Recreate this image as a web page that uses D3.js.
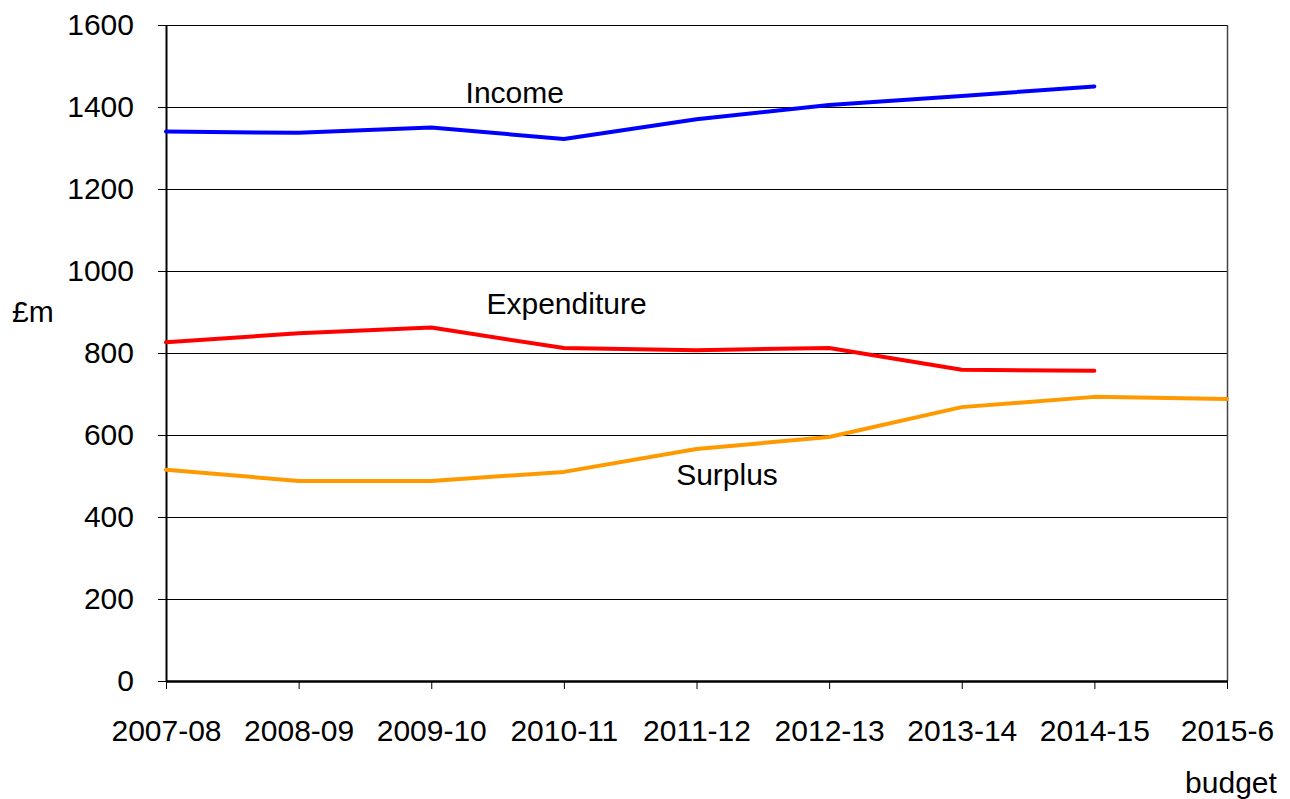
<!DOCTYPE html>
<html lang="en">
<head>
    <meta charset="UTF-8">
    <title>Income, expenditure and surplus</title>
    <style>
        body { margin: 0; padding: 0; background: white; overflow: hidden; }
        text { font-family: "Liberation Sans", Arial, sans-serif; }
    </style>
</head>
<body>
    <svg id="chart" width="1290" height="799"></svg>
    <script src="https://d3js.org/d3.v7.min.js"></script>
    <script>
        // data (£m)
        const years = ["2007-08", "2008-09", "2009-10", "2010-11", "2011-12", "2012-13", "2013-14", "2014-15", "2015-6"];
        const income = [1340, 1337, 1350, 1322, 1370, 1405, 1427, 1450];
        const expenditure = [826, 848, 862, 812, 807, 812, 759, 757];
        const surplus = [515, 488, 488, 510, 566, 595, 668, 693, 688];
        const yTicks = [0, 200, 400, 600, 800, 1000, 1200, 1400, 1600];

        const FONT_SIZE = 30;

        const margin = {top: 25, right: 63, bottom: 118, left: 166};
        const width = 1290, height = 799;

        const svg = d3.select("#chart");

        const x = d3.scalePoint()
            .domain(years)
            .range([margin.left, width - margin.right]);

        const y = d3.scaleLinear()
            .domain([0, 1600])
            .range([height - margin.bottom, margin.top]);

        // gridlines
        svg.append("g")
            .selectAll("line")
            .data(yTicks.slice(1))
            .enter()
            .append("line")
            .attr("x1", margin.left)
            .attr("x2", width - margin.right)
            .attr("y1", d => y(d) + 0.5)
            .attr("y2", d => y(d) + 0.5)
            .attr("stroke", "#000")
            .attr("stroke-width", 1);

        // right border
        svg.append("line")
            .attr("x1", width - margin.right + 0.5)
            .attr("x2", width - margin.right + 0.5)
            .attr("y1", margin.top)
            .attr("y2", height - margin.bottom)
            .attr("stroke", "#444")
            .attr("stroke-width", 1.5);

        // y axis
        const yAxis = svg.append("g")
            .attr("transform", "translate(" + margin.left + ",0)")
            .call(d3.axisLeft(y).tickValues(yTicks).tickFormat(d3.format("d"))
                .tickSize(8).tickPadding(24).tickSizeOuter(0));
        yAxis.select(".domain").attr("stroke-width", 2);
        yAxis.selectAll("text").attr("font-size", FONT_SIZE).attr("font-family", null).attr("fill", "#000");

        // x axis
        const xAxis = svg.append("g")
            .attr("transform", "translate(0," + (height - margin.bottom) + ")")
            .call(d3.axisBottom(x).tickSize(8).tickPadding(31).tickSizeOuter(0));
        xAxis.select(".domain").attr("stroke-width", 2.5);
        xAxis.selectAll("text").attr("font-size", FONT_SIZE).attr("font-family", null).attr("fill", "#000");

        svg.append("text")
            .attr("x", x("2015-6") + 4)
            .attr("y", height - 6)
            .attr("text-anchor", "middle")
            .attr("font-size", FONT_SIZE)
            .text("budget");

        svg.append("text")
            .attr("x", 12)
            .attr("y", y(900) + 10)
            .attr("font-size", FONT_SIZE)
            .text("£m");

        // lines
        const line = d3.line()
            .x((d, i) => x(years[i]))
            .y(d => y(d));

        // lx: label centre in category steps from the first year, ly: baseline in £m
        const series = [
            {name: "Income", values: income, color: "#0000ff", lx: 2.63, ly: 1410},
            {name: "Expenditure", values: expenditure, color: "#ff0000", lx: 3.02, ly: 894},
            {name: "Surplus", values: surplus, color: "#ff9900", lx: 4.23, ly: 478}
        ];

        series.forEach(function(s) {
            svg.append("path")
                .datum(s.values)
                .attr("fill", "none")
                .attr("stroke", s.color)
                .attr("stroke-width", 4)
                .attr("stroke-linejoin", "round")
                .attr("stroke-linecap", "round")
                .attr("d", line);

            svg.append("text")
                .attr("x", margin.left + s.lx * x.step())
                .attr("y", y(s.ly))
                .attr("text-anchor", "middle")
                .attr("font-size", FONT_SIZE)
                .text(s.name);
        });
    </script>
</body>
</html>
